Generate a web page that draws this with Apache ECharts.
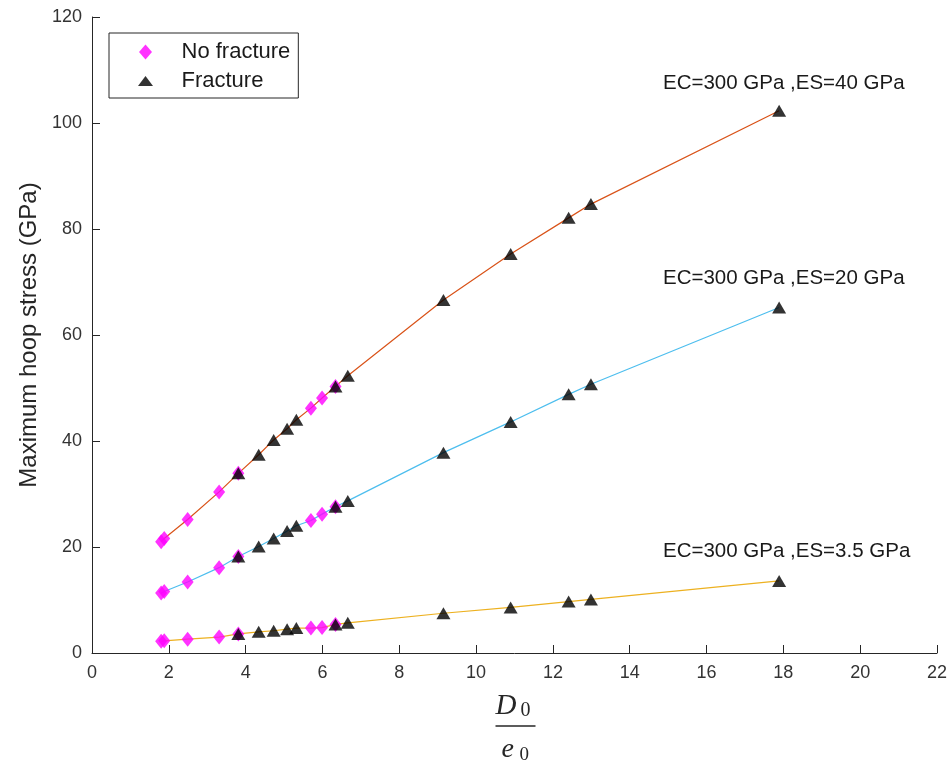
<!DOCTYPE html>
<html>
<head>
<meta charset="utf-8">
<script src="https://cdn.jsdelivr.net/npm/echarts@6/dist/echarts.min.js"></script>
<style>
  html, body { margin: 0; padding: 0; background: #fff; }
  #chart { width: 950px; height: 761px; }
</style>
</head>
<body>
<div id="chart"></div>
<script>
// D0/e0 ratios shared by the three curves
const ratio = [1.80, 1.88, 2.49, 3.31, 3.81, 4.34, 4.73, 5.08, 5.32, 5.70, 5.99, 6.34, 6.66, 9.15, 10.90, 12.41, 12.99, 17.89]
// maximum hoop stress (GPa) for each ES
const stressES40 = [21.0, 21.6, 25.2, 30.4, 33.9, 37.4, 40.2, 42.3, 44.0, 46.2, 48.1, 50.3, 52.3, 66.6, 75.3, 82.1, 84.7, 102.3]
const stressES20 = [11.3, 11.6, 13.4, 16.1, 18.2, 20.1, 21.6, 23.0, 24.0, 25.0, 26.2, 27.6, 28.7, 37.8, 43.6, 48.8, 50.7, 65.2]
const stressES35 = [2.2, 2.3, 2.6, 3.0, 3.6, 4.0, 4.2, 4.5, 4.7, 4.7, 4.8, 5.4, 5.7, 7.5, 8.6, 9.7, 10.1, 13.6]
// which points are marked as no fracture / fracture
const noFractureIdx = [0, 1, 2, 3, 4, 9, 10, 11]
const fractureIdx = [4, 5, 6, 7, 8, 11, 12, 13, 14, 15, 16, 17]
const xTicks = [0, 22, 2]
const yTicks = [0, 120, 20]
const curveLabels = ['EC=300 GPa ,ES=40 GPa', 'EC=300 GPa ,ES=20 GPa', 'EC=300 GPa ,ES=3.5 GPa']

const curves = [stressES40, stressES20, stressES35]
const lineColors = ['#D95319', '#4DBEEE', '#EDB120']
const font = 'Liberation Sans, Arial, sans-serif'
const serif = 'Liberation Serif, serif'
const axisColor = '#262626'
const diamondPath = 'path://M5,0L10,7L5,14L0,7Z'
const trianglePath = 'path://M6.5,0L13,11L0,11Z'
// legend icons: the extra moves pad the box so both icons share one height
const diamondIcon = 'path://M6.5,0L13,7.5L6.5,15L0,7.5Z'
const triangleIcon = 'path://M0,0M15,15M7.5,2.5L15,12.5L0,12.5Z'

function points(idx) {
  const out = []
  curves.forEach(c => idx.forEach(i => out.push([ratio[i], c[i]])))
  return out
}

const chart = echarts.init(document.getElementById('chart'))

function axisBase(range) {
  return {
    type: 'value',
    min: range[0],
    max: range[1],
    interval: range[2],
    splitLine: { show: false },
    axisLine: { show: true, onZero: false, lineStyle: { color: axisColor, width: 1 } },
    axisTick: { show: true, inside: true, length: 8, lineStyle: { color: axisColor } },
    axisLabel: { color: '#333', fontFamily: font, fontSize: 18 },
  }
}

const xAxis = axisBase(xTicks)
xAxis.axisLabel.margin = 11
const yAxis = axisBase(yTicks)
yAxis.axisLabel.margin = 10
yAxis.name = 'Maximum hoop stress (GPa)'
yAxis.nameLocation = 'middle'
yAxis.nameGap = 41
yAxis.nameTextStyle = { color: '#262626', fontFamily: font, fontSize: 24 }

const lineSeries = curves.map((c, k) => ({
  name: curveLabels[k],
  type: 'line',
  data: ratio.map((x, i) => [x, c[i]]),
  showSymbol: false,
  symbol: 'none',
  lineStyle: { color: lineColors[k], width: 1.2 },
  z: 1,
  silent: true,
}))

chart.setOption({
  animation: false,
  grid: { left: 92, right: 13, top: 17, bottom: 108, containLabel: false },
  legend: {
    left: 109,
    top: 33,
    orient: 'vertical',
    data: [
      { name: 'No fracture', icon: diamondIcon },
      { name: 'Fracture', icon: triangleIcon },
    ],
    itemWidth: 62,
    itemHeight: 15,
    itemGap: 7,
    padding: [8, 8, 6, 29],
    borderColor: '#262626',
    borderWidth: 1,
    backgroundColor: '#fff',
    textStyle: { color: '#1a1a1a', fontFamily: font, fontSize: 22 },
  },
  xAxis,
  yAxis,
  series: [
    ...lineSeries,
    {
      name: 'No fracture',
      type: 'scatter',
      symbol: diamondPath,
      symbolSize: [12, 15],
      itemStyle: { color: '#FF00FF' },
      data: points(noFractureIdx),
      z: 2,
    },
    {
      name: 'Fracture',
      type: 'scatter',
      symbol: trianglePath,
      symbolSize: [14, 12],
      itemStyle: { color: '#000' },
      data: points(fractureIdx),
      z: 3,
    },
  ],
  graphic: [
    ...curveLabels.map((t, k) => ({
      type: 'text',
      left: 663,
      top: [73, 268, 541][k],
      style: { text: t, fill: '#1a1a1a', font: '20.5px ' + font },
    })),
    // x axis title: D0 / e0 (group is placed by its top edge, the D)
    {
      type: 'group',
      left: 493,
      top: 692,
      children: [
        { type: 'text', x: 1, y: 5, style: { text: 'D', font: 'italic 29px ' + serif, fill: '#262626' } },
        { type: 'text', x: 26, y: 14, style: { text: '0', font: '20px ' + serif, fill: '#262626' } },
        { type: 'line', shape: { x1: 1, y1: 39, x2: 41, y2: 39 }, style: { stroke: '#262626', lineWidth: 1.5 } },
        { type: 'text', x: 7, y: 49, style: { text: 'e', font: 'italic 28px ' + serif, fill: '#262626' } },
        { type: 'text', x: 25, y: 59, style: { text: '0', font: '19px ' + serif, fill: '#262626' } },
      ],
    },
  ],
})
</script>
</body>
</html>
